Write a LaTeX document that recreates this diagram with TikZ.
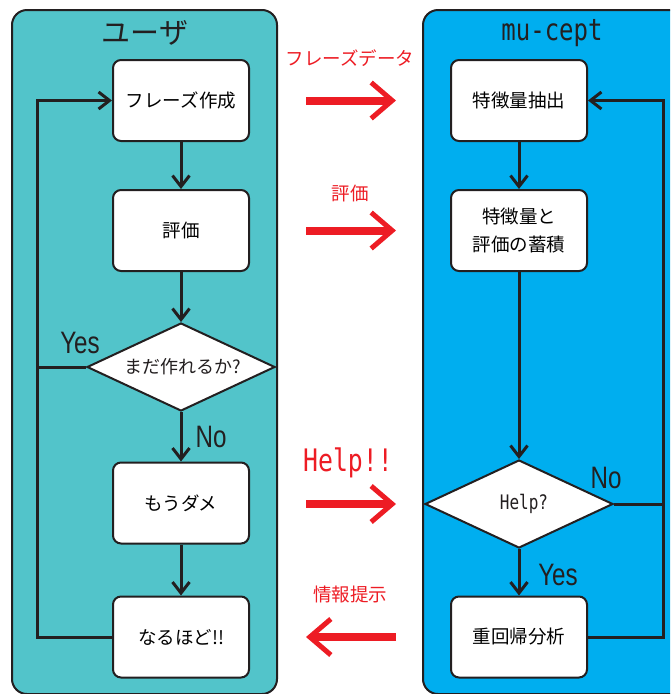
\documentclass[tikz,border=0pt]{standalone}
\usepackage{fontspec}
\setmainfont{Noto Sans CJK JP}
\newfontfamily\monof[FakeStretch=0.8]{DejaVu Sans Mono}
\newfontfamily\narrowf[FakeStretch=0.78]{Liberation Sans}
\usetikzlibrary{shapes.geometric,arrows.meta}
\definecolor{teal1}{RGB}{82,196,202}
\definecolor{cyan1}{RGB}{0,174,239}
\definecolor{dk}{RGB}{35,31,32}
\definecolor{rd}{RGB}{237,28,36}
\begin{document}
\begin{tikzpicture}[x=1pt,y=-1pt,
  panel/.style={draw=dk,line width=2pt,rounded corners=15pt},
  box/.style={draw=dk,fill=white,line width=2pt,rounded corners=8pt,minimum width=136pt,minimum height=81pt,inner sep=0pt,align=center,font=\fontsize{18.5}{28}\selectfont},
  dia/.style={draw=dk,fill=white,line width=2pt,diamond,aspect=2.1,minimum width=188pt,minimum height=88pt,inner sep=0pt},
  flow/.style={draw=dk,line width=3pt,-{Straight Barb[length=11pt,width=17pt,line width=3pt]}},
  line/.style={draw=dk,line width=3pt},
  big/.style={draw=rd,line width=8pt,-{Straight Barb[length=21pt,width=36pt,line width=5pt]}},
  yn/.style={font=\narrowf\fontsize{31}{33}\selectfont,text=dk,inner sep=0pt},
  rlab/.style={text=rd,font=\fontsize{18.5}{22}\selectfont,inner sep=0pt}]
\useasboundingbox (0,0) rectangle (670,694);
\clip (0,0) rectangle (670,694);
% panels
\path[panel,fill=teal1] (12,10) rectangle (277,694);
\path[panel,fill=cyan1] (423,10) rectangle (700,694);
\node[text=dk,font=\fontsize{29}{32}\selectfont] (ttl) at (145,33) {ユーザ};
\node[text=dk,font=\monof\fontsize{30}{32}\selectfont] (ttr) at (552,33) {mu-cept};
% left column
\node[box] (l1) at (181,100.5) {フレーズ作成};
\node[box] (l2) at (181,230.5) {評価};
\node[dia] (l3) at (181,367) {};
\node[font=\fontsize{18}{20}\selectfont,text=dk] (l3t) at (183,367) {まだ作れるか?};
\node[box] (l4) at (181,503) {もうダメ};
\node[box] (l5) at (181,637) {なるほど!!};
\coordinate (la) at (37,637);
\coordinate (lb) at (37,100.5);
\coordinate (lc) at (37,367);
\draw[flow] (l1) -- (l2);
\draw[flow] (l2) -- (l3);
\draw[flow] (l3) -- (l4);
\draw[flow] (l4) -- (l5);
\draw[flow] (l5.west) -- (la) -- (lb) -- (l1.west);
\draw[line] (l3.west) -- (lc);
\node[yn] (lyes) at (80,343) {Yes};
\node[yn] (lno) at (211,437) {No};
% right column
\node[box] (r1) at (519,100.5) {特徴量抽出};
\node[box,font=\fontsize{18.5}{28}\selectfont] (r2) at (519,230.5) {特徴量と\\評価の蓄積};
\node[dia] (r3) at (519,504) {};
\node[font=\monof\fontsize{20}{22}\selectfont,text=dk] (r3t) at (524,504) {Help?};
\node[box] (r4) at (519,637) {重回帰分析};
\coordinate (ra) at (663,637);
\coordinate (rb) at (663,100.5);
\coordinate (rc) at (663,504);
\draw[flow] (r1) -- (r2);
\draw[flow] (r2) -- (r3);
\draw[flow] (r3) -- (r4);
\draw[flow] (r4.east) -- (ra) -- (rb) -- (r1.east);
\draw[line] (r3.east) -- (rc);
\node[yn] (rno) at (606,478) {No};
\node[yn] (ryes) at (558,575) {Yes};
% red arrows
\coordinate (a1s) at (306,100.5); \coordinate (a1e) at (396,100.5);
\coordinate (a2s) at (306,230.5); \coordinate (a2e) at (396,230.5);
\coordinate (a3s) at (306,504); \coordinate (a3e) at (396,504);
\coordinate (a4s) at (396,637); \coordinate (a4e) at (306,637);
\draw[big] (a1s) -- (a1e);
\draw[big] (a2s) -- (a2e);
\draw[big] (a3s) -- (a3e);
\draw[big] (a4s) -- (a4e);
\node[rlab] (t1) at (350,58) {フレーズデータ};
\node[rlab] (t2) at (350,193) {評価};
\node[rlab,font=\monof\fontsize{31}{33}\selectfont] (t3) at (348,463) {Help!!};
\node[rlab] (t4) at (350,594) {情報提示};
\end{tikzpicture}
\end{document}
